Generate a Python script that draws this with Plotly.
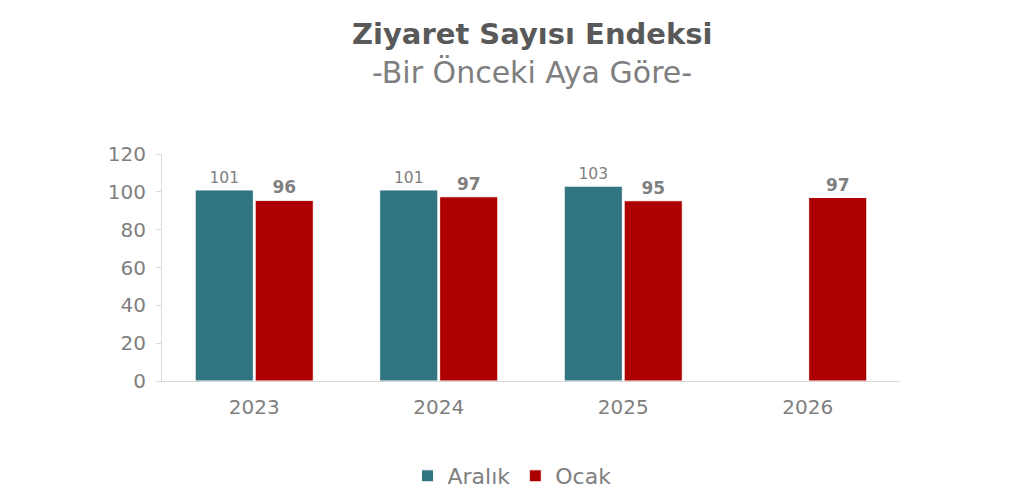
import plotly.graph_objects as go

years = ["2023", "2024", "2025", "2026"]
aralik = [101, 101, 103, None]
ocak = [95.5, 97.4, 95.3, 97.0]
aralik_labels = ["101", "101", "103", ""]
ocak_labels = ["96", "97", "95", "97"]

font_family = "DejaVu Sans, Verdana, sans-serif"
gray = "#7f7f7f"

fig = go.Figure()
fig.add_trace(go.Bar(
    x=years, y=aralik, name="Aralık",
    marker_color="#317482", marker_line_color="white", marker_line_width=1,
    text=aralik_labels, textposition="outside", cliponaxis=False,
    textfont=dict(size=15.5, color=gray, family=font_family),
))
fig.add_trace(go.Bar(
    x=years, y=ocak, name="Ocak",
    marker_color="#ad0000", marker_line_color="white", marker_line_width=1,
    text=[f"<b>{t}</b>" for t in ocak_labels], textposition="outside", cliponaxis=False,
    textfont=dict(size=17, color=gray, family=font_family),
))

# page body has an 8px margin, so positions are shifted back by 8
off = 8
plot_left, plot_right = 162 - off, 900 - off
plot_top, plot_bottom = 154 - off, 381 - off
W, H = 1024, 502

def px_x(pixel_x):
    return (pixel_x - off - plot_left) / (plot_right - plot_left)

def py(pixel_y):
    return (plot_bottom - (pixel_y - off)) / (plot_bottom - plot_top)

fig.update_layout(
    width=W, height=H,
    margin=dict(l=plot_left, r=W - plot_right, t=plot_top, b=H - plot_bottom, autoexpand=False),
    paper_bgcolor="white", plot_bgcolor="white",
    barmode="group", bargap=0.35, bargroupgap=0.03,
    font=dict(family=font_family, color=gray),
    showlegend=True,
    legend=dict(orientation="h", x=px_x(512), xanchor="center", y=py(476), yanchor="middle",
                font=dict(size=22, color=gray), itemwidth=30, traceorder="normal"),
    annotations=[
        dict(text="<b>Ziyaret Sayısı Endeksi</b>", x=px_x(532), y=py(34), xref="paper", yref="paper",
             yanchor="middle", showarrow=False, font=dict(size=29, color="#595959", family=font_family)),
        dict(text="-Bir Önceki Aya Göre-", x=px_x(532), y=py(72), xref="paper", yref="paper",
             yanchor="middle", showarrow=False, font=dict(size=30, color=gray, family=font_family)),
    ],
)

fig.update_xaxes(showline=True, linecolor="#d9d9d9", linewidth=1, ticks="",
                 tickfont=dict(size=20, color=gray), showgrid=False, ticklabelstandoff=8)
fig.update_yaxes(range=[0, 120], dtick=20, showline=True, linecolor="#d9d9d9", linewidth=1,
                 ticks="outside", ticklen=5, tickcolor="#d9d9d9", showgrid=False, zeroline=False,
                 tickfont=dict(size=20, color=gray), ticklabelstandoff=6)

fig.write_html("out.html")
